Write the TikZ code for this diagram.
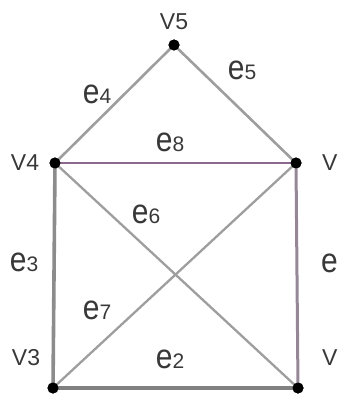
\documentclass[tikz,border=0pt]{standalone}
\usepackage{fontspec}
\setmainfont{Liberation Sans}
\begin{document}
\begin{tikzpicture}[x=1pt,y=-1pt,
  vdot/.style={circle,fill=black,inner sep=0pt,minimum size=11pt},
  vlab/.style={text=black!78,font=\fontsize{23}{23}\selectfont,inner sep=0pt},
  elab/.style={text=black!78,inner sep=0pt},
  gedge/.style={draw=black!38,line width=2.6pt},
  pedge/.style={draw={rgb,255:red,140;green,105;blue,140},line width=2.8pt}]
\useasboundingbox (0,0) rectangle (338,396);
\clip (0,0) rectangle (338,396);
\newcommand{\ee}{\scalebox{1}[1.15]{\fontsize{30}{30}\selectfont e}}
\newcommand{\elabtext}[1]{\ee{\fontsize{21}{21}\selectfont #1}}
% vertices
\node[vdot] (v5) at (174,45) {};
\node[vdot] (v4) at (55,163) {};
\node[vdot] (v2) at (296,163) {};
\node[vdot] (v3) at (53,388) {};
\node[vdot] (v1) at (298,388) {};
% edges
\draw[gedge] (v4.center) -- (v5.center);
\draw[gedge] (v5.center) -- (v2.center);
\draw[pedge] (v4.center) -- (v2.center);
\draw[gedge,draw=black!45,line width=3.6pt] (v4.center) -- (v3.center);
\draw[gedge,draw={rgb,255:red,150;green,135;blue,150},line width=3pt] (v2.center) -- (v1.center);
\draw[gedge,draw=black!50,line width=4.2pt] (v3.center) -- (v1.center);
\draw[gedge,line width=2.3pt] (v4.center) -- (v1.center);
\draw[gedge,line width=2.3pt] (v3.center) -- (v2.center);
% redraw dots on top
\foreach \n in {v5,v4,v2,v3,v1} \fill (\n) circle (5.5pt);
% vertex labels
\node[vlab] (l5) at (174,22) {V5};
\node[vlab] (l4) at (25,163) {V4};
\node[vlab,anchor=west] (l2) at (322,163) {V};
\node[vlab] (l3) at (26,358) {V3};
\node[vlab,anchor=west] (l1) at (322,358) {V};
% edge labels
\node[elab] (e4) at (97,94) {\elabtext{4}};
\node[elab] (e5) at (242,70) {\elabtext{5}};
\node[elab] (e8) at (170,142) {\elabtext{8}};
\node[elab] (e6) at (146,214) {\elabtext{6}};
\node[elab] (e3) at (24,262) {\elabtext{3}};
\node[elab,anchor=west] (e1) at (321,263) {\ee};
\node[elab] (e7) at (97,310) {\elabtext{7}};
\node[elab] (e2) at (170,359) {\elabtext{2}};
\end{tikzpicture}
\end{document}
